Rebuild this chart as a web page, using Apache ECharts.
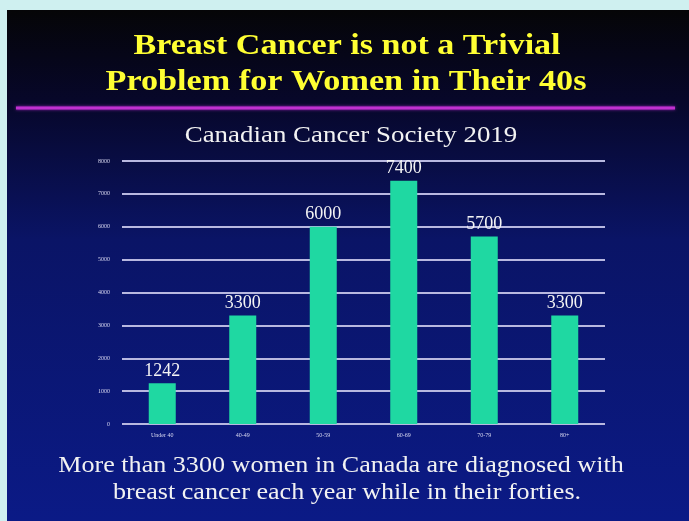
<!DOCTYPE html>
<html>
<head>
<meta charset="utf-8">
<script src="https://cdn.jsdelivr.net/npm/echarts@6/dist/echarts.min.js"></script>
<style>html,body{margin:0;padding:0;background:#cff0f0;}#c{width:689px;height:521px;}</style>
</head>
<body>
<div id="c"></div>
<script>
const categories = ['Under 40', '40-49', '50-59', '60-69', '70-79', '80+'];
const values = [1242, 3300, 6000, 7400, 5700, 3300];
const yTicks = [0, 1000, 2000, 3000, 4000, 5000, 6000, 7000, 8000];
const titleLines = ['Breast Cancer is not a Trivial', 'Problem for Women in Their 40s'];
const subtitle = 'Canadian Cancer Society 2019';
const footLines = ['More than 3300 women in Canada are diagnosed with', 'breast cancer each year while in their forties.'];

const chart = echarts.init(document.getElementById('c'));
const serif = '"Liberation Serif", "DejaVu Serif", serif';
function txt(str, x, y, font, fill, sx) {
  return { type: 'text', x: x, y: y, scaleX: sx, style: { text: str, fill: fill, font: font, textAlign: 'center', textVerticalAlign: 'top' } };
}
chart.setOption({
  backgroundColor: '#cff0f0',
  animation: false,
  graphic: [
    { type: 'rect', z: -10, shape: { x: 7, y: 10, width: 682, height: 511 },
      style: { fill: new echarts.graphic.LinearGradient(0, 0, 0, 1, [
        { offset: 0, color: '#050507' },
        { offset: 0.18, color: '#07072a' },
        { offset: 0.45, color: '#0a1466' },
        { offset: 1, color: '#0b1a86' }
      ]) } },
    { type: 'rect', z: -5, shape: { x: 16, y: 106.5, width: 659, height: 3 },
      style: { fill: '#c030d0', shadowBlur: 3, shadowColor: '#a020c0' } },
    txt(titleLines[0], 347, 31, 'bold 30px ' + serif, '#ffff33', 1.135),
    txt(titleLines[1], 346, 67, 'bold 30px ' + serif, '#ffff33', 1.14),
    txt(subtitle, 351, 124, '23px ' + serif, '#f2f2f2', 1.17),
    txt(footLines[0], 341, 454, '23px ' + serif, '#f2f2f2', 1.135),
    txt(footLines[1], 347, 481, '23px ' + serif, '#f2f2f2', 1.135)
  ],
  grid: { left: 122, right: 84, top: 161, bottom: 97, containLabel: false },
  xAxis: {
    type: 'category', data: categories,
    axisLine: { show: false }, axisTick: { show: false },
    axisLabel: { color: '#d8d8f0', fontSize: 6, fontFamily: serif, margin: 8 }
  },
  yAxis: {
    type: 'value', min: yTicks[0], max: yTicks[yTicks.length - 1], interval: 1000,
    axisLine: { show: false }, axisTick: { show: false },
    axisLabel: { color: '#d8d8f0', fontSize: 6, fontFamily: serif, margin: 12, formatter: v => String(v) },
    splitLine: { lineStyle: { color: '#b8b8e0', width: 2 } }
  },
  series: [{
    type: 'bar', data: values, barWidth: 27,
    itemStyle: { color: '#1fd8a2' },
    label: { show: true, position: 'top', color: '#f4f4f4', fontSize: 18, fontFamily: serif, distance: 3 }
  }]
});
</script>
</body>
</html>
